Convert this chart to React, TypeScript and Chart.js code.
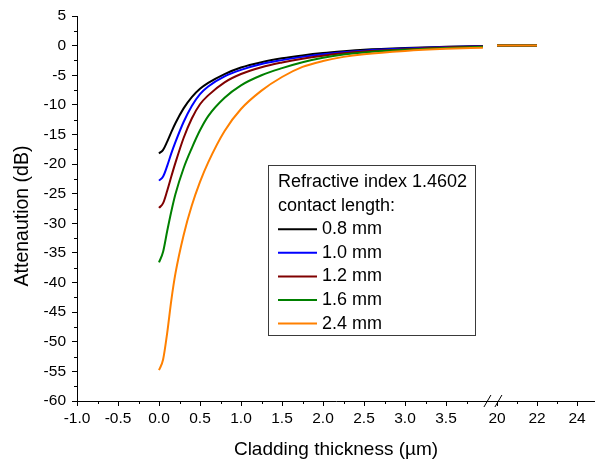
import React, { useEffect, useRef } from 'react';
import { Chart, registerables } from 'chart.js';

Chart.register(...registerables);

// Cladding thickness (µm) at which the attenuation was evaluated
const THICKNESS = [0, 0.05, 0.1, 0.15, 0.2, 0.3, 0.4, 0.5, 0.6, 0.8, 1.0, 1.25, 1.5, 1.75, 2.0, 2.25, 2.5, 3.0, 3.5, 3.95];
const THICKNESS_FAR = [20, 22];

// Attenuation (dB) per contact length
const ATT_08 = [-18.2, -17.6, -16.2, -14.6, -13.1, -10.6, -8.7, -7.3, -6.3, -4.8, -3.7, -2.8, -2.15, -1.65, -1.25, -0.95, -0.7, -0.4, -0.2, -0.05];
const ATT_10 = [-22.8, -22.1, -20.3, -18.2, -16.3, -12.9, -10.2, -8.2, -6.9, -5.2, -4.1, -3.1, -2.45, -1.9, -1.45, -1.1, -0.85, -0.5, -0.25, -0.1];
const ATT_12 = [-27.4, -26.6, -24.5, -22.1, -19.8, -15.6, -12.3, -9.9, -8.4, -6.2, -4.8, -3.65, -2.85, -2.2, -1.7, -1.3, -1.0, -0.6, -0.3, -0.15];
const ATT_16 = [-36.6, -34.8, -31.3, -28.0, -25.1, -20.7, -17.3, -14.3, -11.9, -8.8, -6.7, -5.0, -3.8, -2.8, -2.05, -1.5, -1.15, -0.7, -0.4, -0.2];
const ATT_24 = [-54.8, -53.0, -48.5, -43.0, -38.5, -32.0, -27.0, -23.0, -19.7, -14.4, -10.7, -7.6, -5.3, -3.6, -2.6, -1.9, -1.45, -0.9, -0.55, -0.35];

const FAR_08 = [0, 0];
const FAR_10 = [0, 0];
const FAR_12 = [0, 0];
const FAR_16 = [0, 0];
const FAR_24 = [0, 0];

const SERIES_LABELS = ['0.8 mm', '1.0 mm', '1.2 mm', '1.6 mm', '2.4 mm'];
const SERIES_COLORS = ['#000000', '#0000ff', '#800000', '#008000', '#ff8000'];
const SERIES_NEAR = [ATT_08, ATT_10, ATT_12, ATT_16, ATT_24];
const SERIES_FAR = [FAR_08, FAR_10, FAR_12, FAR_16, FAR_24];

const LEGEND_TITLE = ['Refractive index 1.4602', 'contact length:'];
const X_TITLE = 'Cladding thickness (\u00b5m)';
const Y_TITLE = 'Attenaution (dB)';

const X_TICKS = [-1, -0.5, 0, 0.5, 1, 1.5, 2, 2.5, 3, 3.5, 20, 22, 24];
const X_TICK_LABELS = ['-1.0', '-0.5', '0.0', '0.5', '1.0', '1.5', '2.0', '2.5', '3.0', '3.5', '20', '22', '24'];
const X_MINOR = [-0.75, -0.25, 0.25, 0.75, 1.25, 1.75, 2.25, 2.75, 3.25, 3.75, 21, 23];
const Y_MIN = -60;
const Y_MAX = 5;
const Y_STEP = 5;

// Broken x axis: the near part keeps its units, the far part (>= 20 µm)
// is compressed and placed right after the break.
const BREAK_AT = 4.06;
const FAR_START = 20;
const FAR_OFFSET = 4.122;
const FAR_SCALE = 0.2439;
const X_AXIS_MIN = -1;
const X_AXIS_MAX = 5.317;
const toAxis = (x: number) => (x <= BREAK_AT ? x : FAR_OFFSET + (x - FAR_START) * FAR_SCALE);

const FONT = "'Liberation Sans', Arial, Helvetica, sans-serif";

const axisDecorations = {
  id: 'axisDecorations',
  afterDraw(chart: any) {
    const { ctx, chartArea, scales } = chart;
    ctx.save();
    ctx.strokeStyle = '#000';
    ctx.lineWidth = 1;
    ctx.beginPath();
    X_MINOR.forEach((v) => {
      const px = Math.round(scales.x.getPixelForValue(toAxis(v))) + 0.5;
      ctx.moveTo(px, chartArea.bottom);
      ctx.lineTo(px, chartArea.bottom + 3);
    });
    for (let v = Y_MIN + Y_STEP / 2; v < Y_MAX; v += Y_STEP) {
      const py = Math.round(scales.y.getPixelForValue(v)) + 0.5;
      ctx.moveTo(chartArea.left - 3, py);
      ctx.lineTo(chartArea.left, py);
    }
    ctx.stroke();

    // axis break marks
    const bx = scales.x.getPixelForValue(BREAK_AT);
    const by = chartArea.bottom;
    ctx.beginPath();
    [bx - 4.5, bx + 6.5].forEach((cx) => {
      ctx.moveTo(cx - 3.5, by + 6);
      ctx.lineTo(cx + 3.5, by - 6);
    });
    ctx.stroke();

    // y axis title, rotated
    ctx.fillStyle = '#000';
    ctx.font = `19.5px ${FONT}`;
    ctx.textAlign = 'center';
    ctx.textBaseline = 'middle';
    ctx.translate(23, 216);
    ctx.rotate(-Math.PI / 2);
    ctx.fillText(Y_TITLE, 0, 0);
    ctx.restore();
  },
};

const legendBox = {
  id: 'legendBox',
  afterDraw(chart: any) {
    const { ctx } = chart;
    const x = 268;
    const y = 165;
    const h = 170;
    const rowH = 23.6;
    ctx.save();
    ctx.font = `18px ${FONT}`;
    const textW = Math.max(...LEGEND_TITLE.map((t) => ctx.measureText(t).width));
    const w = Math.round(textW + 18);
    ctx.fillStyle = '#fff';
    ctx.fillRect(x, y, w, h);
    ctx.strokeStyle = '#3a3a3a';
    ctx.lineWidth = 1;
    ctx.strokeRect(x + 0.5, y + 0.5, w, h);
    ctx.fillStyle = '#000';
    ctx.textBaseline = 'middle';
    ctx.textAlign = 'left';
    let cy = y + 17;
    LEGEND_TITLE.forEach((t) => {
      ctx.fillText(t, x + 10, cy);
      cy += rowH;
    });
    chart.data.datasets.forEach((ds: any) => {
      ctx.strokeStyle = ds.borderColor;
      ctx.lineWidth = 2;
      ctx.beginPath();
      ctx.moveTo(x + 10, cy);
      ctx.lineTo(x + 49, cy);
      ctx.stroke();
      ctx.fillStyle = '#000';
      ctx.fillText(ds.label, x + 54, cy);
      cy += rowH;
    });
    ctx.restore();
  },
};

export default function App() {
  const canvasRef = useRef<HTMLCanvasElement | null>(null);

  useEffect(() => {
    const canvas = canvasRef.current;
    if (!canvas) return;

    const datasets = SERIES_LABELS.map((label, i) => ({
      label,
      data: [
        ...THICKNESS.map((t, j) => ({ x: toAxis(t), y: SERIES_NEAR[i][j] })),
        { x: BREAK_AT, y: null },
        ...THICKNESS_FAR.map((t, j) => ({ x: toAxis(t), y: SERIES_FAR[i][j] })),
      ],
      borderColor: SERIES_COLORS[i],
      backgroundColor: SERIES_COLORS[i],
      borderWidth: 2,
      pointRadius: 0,
      cubicInterpolationMode: 'monotone' as const,
      spanGaps: false,
      order: SERIES_LABELS.length - i,
    }));

    const chart = new Chart(canvas, {
      type: 'line',
      data: { datasets },
      options: {
        animation: false,
        responsive: false,
        layout: { padding: { top: 16, right: 0, bottom: 0, left: 0 } },
        plugins: {
          legend: { display: false },
          tooltip: { enabled: false },
        },
        scales: {
          x: {
            type: 'linear',
            min: X_AXIS_MIN,
            max: X_AXIS_MAX,
            afterBuildTicks: (scale: any) => {
              scale.ticks = X_TICKS.map((v) => ({ value: toAxis(v) }));
            },
            afterFit: (scale: any) => {
              scale.height = 58;
            },
            ticks: {
              autoSkip: false,
              maxRotation: 0,
              padding: 3,
              color: '#000',
              font: { family: FONT, size: 15.5 },
              callback: (_v: any, i: number) => X_TICK_LABELS[i],
            },
            grid: { drawOnChartArea: false, drawTicks: true, tickLength: 5, color: '#000' },
            border: { display: true, color: '#000', width: 1 },
            title: {
              display: true,
              text: X_TITLE,
              color: '#000',
              font: { family: FONT, size: 19, lineHeight: 1 },
              padding: 0,
            },
          },
          y: {
            type: 'linear',
            min: Y_MIN,
            max: Y_MAX,
            afterFit: (scale: any) => {
              scale.width = 77;
            },
            ticks: {
              stepSize: Y_STEP,
              padding: 6,
              color: '#000',
              font: { family: FONT, size: 15.5 },
            },
            grid: { drawOnChartArea: false, drawTicks: true, tickLength: 5, color: '#000' },
            border: { display: true, color: '#000', width: 1 },
          },
        },
      },
      plugins: [axisDecorations, legendBox],
    });

    return () => chart.destroy();
  }, []);

  return (
    <canvas
      ref={canvasRef}
      width={595}
      height={459}
      style={{ position: 'absolute', left: 0, top: 0, width: 595, height: 459, background: '#fff' }}
    />
  );
}
